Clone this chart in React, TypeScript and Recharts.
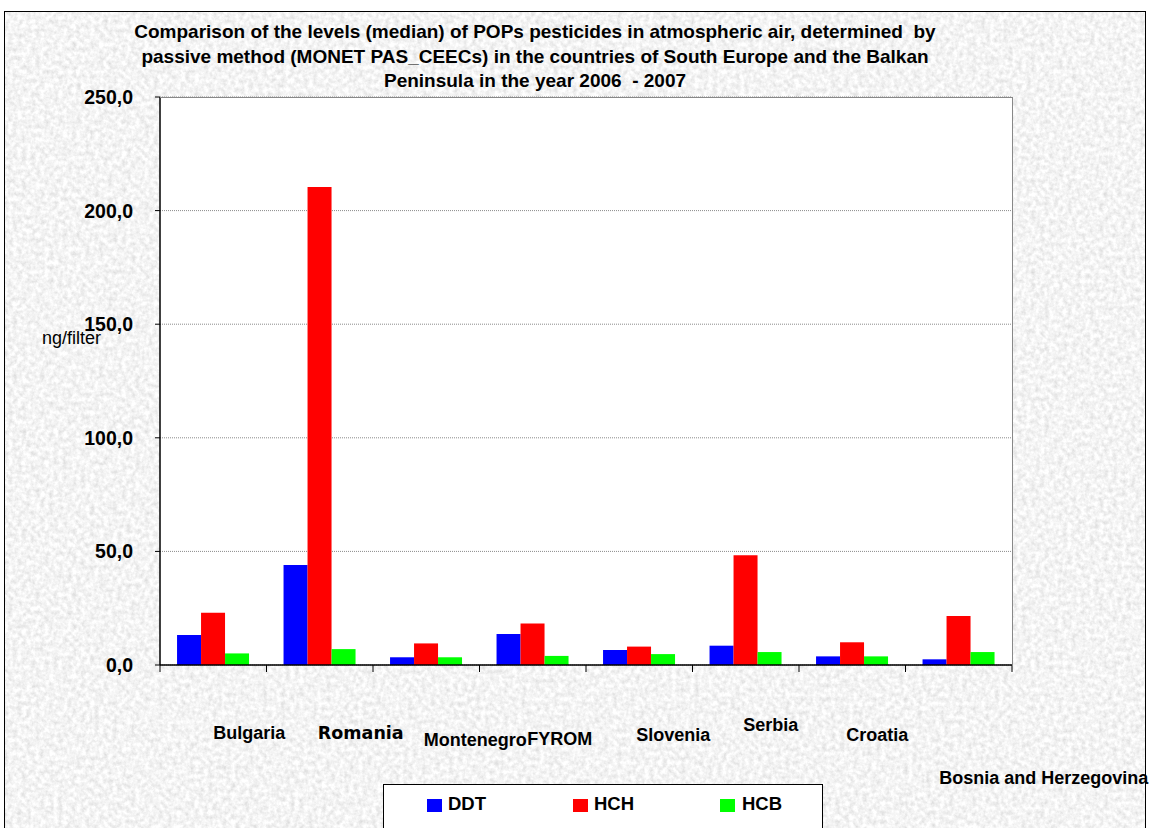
import React from "react";
import { BarChart, Bar, XAxis, YAxis, CartesianGrid } from "recharts";

const countries = ["Bulgaria", "Romania", "Montenegro", "FYROM", "Slovenia", "Serbia", "Croatia", "Bosnia and Herzegovina"];
const ddt = [13.2, 44.0, 3.4, 13.6, 6.6, 8.5, 3.8, 2.5];
const hch = [23.0, 210.4, 9.5, 18.3, 8.1, 48.3, 10.0, 21.6];
const hcb = [5.1, 7.0, 3.4, 4.0, 4.8, 5.7, 3.8, 5.7];
const yTicks = [0, 50, 100, 150, 200, 250];
const boundaryTicks = [0, 1, 2, 3, 4, 5, 6, 7, 8];
const titleLines = [
  "Comparison of the levels (median) of POPs pesticides in atmospheric air, determined  by",
  "passive method (MONET PAS_CEECs) in the countries of South Europe and the Balkan",
  "Peninsula in the year 2006  - 2007",
];
const seriesNames = ["DDT", "HCH", "HCB"];
const seriesColors = ["#0000FF", "#FF0000", "#00FF00"];

const data = countries.map((c, i) => ({ name: c, DDT: ddt[i], HCH: hch[i], HCB: hcb[i] }));

// label placement offsets (dx from category centre, dy below the x axis line)
const labelOffsets = [
  { dx: 36, dy: 68 },
  { dx: 41, dy: 68 },
  { dx: 49, dy: 75 },
  { dx: 27, dy: 74 },
  { dx: 34, dy: 70 },
  { dx: 25, dy: 60 },
  { dx: 25, dy: 70 },
  { dx: 85, dy: 113 },
];

const AXIS_Y = 665;

const CountryTick = (props: any) => {
  const { x, payload } = props;
  const i = payload.index;
  const o = labelOffsets[i] || { dx: 0, dy: 68 };
  const isRo = i === 1;
  return (
    <text
      x={x + o.dx}
      y={AXIS_Y + o.dy}
      textAnchor="middle"
      dominantBaseline="central"
      fontFamily={isRo ? "DejaVu Sans, Verdana, sans-serif" : "Liberation Sans, Arial, sans-serif"}
      fontWeight="bold"
      fontSize={isRo ? 17.5 : 18}
      fill="#000"
    >
      {payload.value}
    </text>
  );
};

const NoiseBg = () => (
  <svg width={1142} height={840} style={{ position: "absolute", left: 0, top: 0 }}>
    <filter id="grain" x="0" y="0" width="100%" height="100%">
      <feTurbulence type="fractalNoise" baseFrequency="0.22" numOctaves={4} seed={3} />
      <feColorMatrix
        type="matrix"
        values="0.45 0 0 0 0.68  0.45 0 0 0 0.68  0.45 0 0 0 0.68  0 0 0 0 1"
      />
    </filter>
    <rect width={1142} height={840} filter="url(#grain)" />
  </svg>
);

const LegendBox = () => (
  <div
    style={{
      position: "absolute",
      left: 383,
      top: 784,
      width: 440,
      height: 50,
      background: "#fff",
      border: "1px solid #000",
      boxSizing: "border-box",
    }}
  >
    {seriesNames.map((n, i) => (
      <React.Fragment key={n}>
        <span
          style={{
            position: "absolute",
            left: [43, 189, 336][i],
            top: 14,
            width: 15,
            height: 13,
            background: seriesColors[i],
          }}
        />
        <span
          style={{
            position: "absolute",
            left: [64, 210, 358][i],
            top: 8,
            fontFamily: "Liberation Sans, Arial, sans-serif",
            fontWeight: "bold",
            fontSize: 18.5,
            lineHeight: "22px",
          }}
        >
          {n}
        </span>
      </React.Fragment>
    ))}
  </div>
);

export default function App() {
  return (
    <div style={{ position: "absolute", left: 0, top: 0, width: 1154, height: 828, overflow: "hidden", background: "#fff" }}>
      <div
        style={{
          position: "absolute",
          left: 4,
          top: 11,
          width: 1142,
          height: 840,
          overflow: "hidden",
          backgroundColor: "#ececec",
        }}
      >
        <NoiseBg />
        <div style={{ position: "absolute", inset: 0, border: "1px solid #000", boxSizing: "border-box" }} />
      </div>
      {titleLines.map((t, i) => (
        <div
          key={i}
          style={{
            position: "absolute",
            left: 0,
            width: 1070,
            top: 20 + i * 24.5,
            textAlign: "center",
            fontFamily: "Liberation Sans, Arial, sans-serif",
            fontWeight: "bold",
            fontSize: 19,
            lineHeight: "24px",
            whiteSpace: "pre",
          }}
        >
          {t}
        </div>
      ))}
      <div
        style={{
          position: "absolute",
          left: 42,
          top: 328,
          fontFamily: "Liberation Sans, Arial, sans-serif",
          fontSize: 18,
          lineHeight: "21px",
          zIndex: 2,
        }}
      >
        ng/filter
      </div>
      <div style={{ position: "absolute", left: 0, top: 0 }}>
        <BarChart
          width={1154}
          height={828}
          data={data}
          margin={{ top: 95, right: 142, bottom: 133, left: 100 }}
          barCategoryGap="16%"
          barGap={0}
        >
          <CartesianGrid horizontal vertical={false} stroke="#8a8a8a" strokeDasharray="1 1" fill="#fff" fillOpacity={1} />
          <XAxis
            xAxisId="n"
            type="number"
            dataKey="idx"
            domain={[0, 8]}
            ticks={boundaryTicks}
            allowDataOverflow
            height={30}
            tickSize={7}
            stroke="#000"
            tick={() => <g />}
            axisLine={{ stroke: "#000", strokeWidth: 1.5 }}
          />
          <XAxis
            xAxisId="c"
            dataKey="name"
            orientation="top"
            height={2}
            axisLine={false}
            tickLine={false}
            interval={0}
            tick={<CountryTick />}
          />
          <YAxis
            domain={[0, 250]}
            ticks={yTicks}
            width={60}
            tickSize={5}
            stroke="#000"
            axisLine={{ stroke: "#000", strokeWidth: 1.5 }}
            tickFormatter={(v: number) => v.toFixed(1).replace(".", ",")}
            tick={{ fill: "#000", fontFamily: "Liberation Sans, Arial, sans-serif", fontWeight: "bold", fontSize: 19.5, dx: -20 }}
          />
          {seriesNames.map((n, i) => (
            <Bar key={n} xAxisId="c" dataKey={n} fill={seriesColors[i]} isAnimationActive={false} />
          ))}
        </BarChart>
      </div>
      <div
        style={{
          position: "absolute",
          left: 160,
          top: 97,
          width: 853,
          height: 569,
          borderTop: "1px solid #888",
          borderRight: "1px solid #888",
          boxSizing: "border-box",
          pointerEvents: "none",
        }}
      />
      <LegendBox />
    </div>
  );
}
